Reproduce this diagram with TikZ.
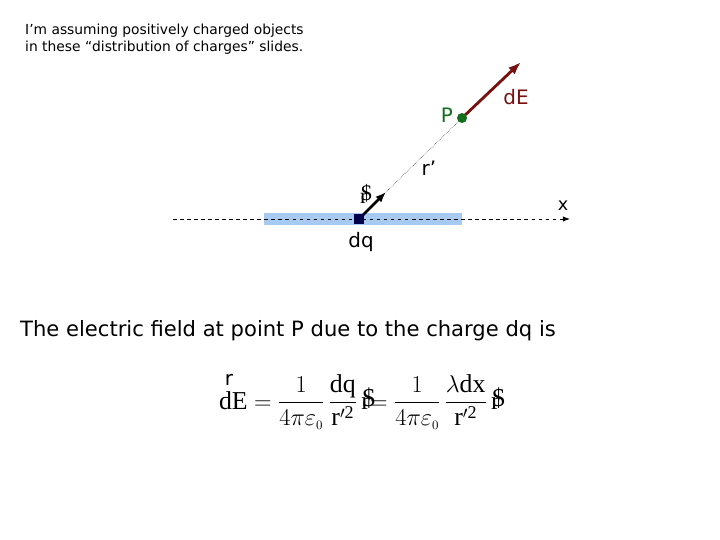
\documentclass[tikz,border=0pt]{standalone}
\usepackage{amsmath}
\usepackage{fontspec}
\setmainfont{Liberation Serif}
\newfontfamily\tah{DejaVu Sans}
\usetikzlibrary{arrows.meta}
\definecolor{bar}{RGB}{166,202,240}
\definecolor{dred}{RGB}{120,16,16}
\definecolor{pg}{RGB}{20,110,30}
\tikzset{lbl/.style={font=\tah\fontsize{15}{17}\selectfont,inner sep=0pt}}
\newcommand{\rdol}{r\kern-0.3em\raisebox{0.1em}{\$}}
\begin{document}
\begin{tikzpicture}[x=0.03cm,y=-0.03cm]
\useasboundingbox (0,0) rectangle (720,540);
\node[anchor=north west,align=left,font=\tah\fontsize{11.8}{14}\selectfont,inner sep=0pt] (note) at (25,24) {I’m assuming positively charged objects\\in these “distribution of charges” slides.};
\fill[bar] (264,213) rectangle (462,225);
\coordinate (xs) at (173,219);
\coordinate (xe) at (570,219);
\draw[dashed,thick,-{Latex[length=6pt]}] (xs) -- (xe);
\node[lbl] (xl) at (563,206) {x};
\coordinate (dq) at (359,219);
\coordinate (rt) at (386,192);
\coordinate (P) at (462,118);
\coordinate (E) at (521,62);
\draw[densely dotted] (rt) -- (P);
\draw[line width=2.2pt,-{Latex[length=9pt,width=7pt]}] (dq) -- (rt);
\fill[blue!30!black] (354,214) rectangle (364,224);
\draw[dred,line width=2.4pt,-{Latex[length=11pt,width=8pt]}] (P) -- (E);
\fill[pg] (P) circle (5);
\node[lbl,text=pg,font=\tah\fontsize{17}{19}\selectfont] (Pl) at (447,115) {P};
\node[lbl,text=dred,font=\tah\fontsize{17}{19}\selectfont] (El) at (516,97) {dE};
\node[lbl,font=\tah\fontsize{17}{19}\selectfont] (rp) at (429,168) {r’};
\node[lbl,font=\tah\fontsize{17}{19}\selectfont] (dql) at (361,242) {dq};
\node[inner sep=0pt,font=\fontsize{19}{20}\selectfont] (rh) at (366,194) {\rdol};
\node[lbl,font=\tah\fontsize{18}{20}\selectfont] (txt) at (288,331) {The electric field at point P due to the charge dq is};
\node[inner sep=0pt,font=\fontsize{22}{24}\selectfont] (eq) at (362,402) {dE $=$ $\dfrac{1}{4\pi\varepsilon_{\scriptscriptstyle 0}}\,\dfrac{\mathrm{dq}}{\mathrm{r'^2}}$\,\rdol\kern-0.2em$=$ $\dfrac{1}{4\pi\varepsilon_{\scriptscriptstyle 0}}\,\dfrac{\lambda\mathrm{dx}}{\mathrm{r'^2}}$\,\rdol};
\node[inner sep=0pt,font=\tah\fontsize{17}{17}\selectfont] (ar) at (229,380) {r};
\end{tikzpicture}
\end{document}
